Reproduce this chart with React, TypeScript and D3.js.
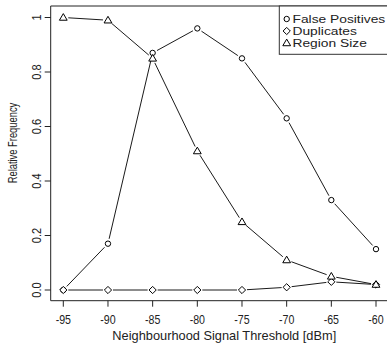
import React from "react";
import * as d3 from "d3";

const thresholds = [-95, -90, -85, -80, -75, -70, -65, -60];
const falsePositives = [0, 0.17, 0.87, 0.96, 0.85, 0.63, 0.33, 0.15];
const duplicates = [0, 0, 0, 0, 0, 0.01, 0.03, 0.02];
const regionSize = [1.0, 0.99, 0.85, 0.51, 0.25, 0.11, 0.05, 0.02];
const yTicks = [0, 0.2, 0.4, 0.6, 0.8, 1];
const yTickLabels = ["0.0", "0.2", "0.4", "0.6", "0.8", "1"];
const legendLabels = ["False Positives", "Duplicates", "Region Size"];

const W = 387;
const H = 347;
const FONT = "'Liberation Sans', Arial, Helvetica, sans-serif";

const x = d3.scaleLinear().domain([-95, -60]).range([63.3, 376]);
const y = d3.scaleLinear().domain([0, 1]).range([290, 17.5]);

type Shape = "circle" | "diamond" | "triangle";

const Marker = ({ shape, cx, cy }: { shape: Shape; cx: number; cy: number }) => {
  if (shape === "circle")
    return <circle cx={cx} cy={cy} r={2.7} fill="white" stroke="black" strokeWidth={1} />;
  if (shape === "diamond") {
    const s = 3.6;
    return (
      <path
        d={`M${cx},${cy - s}L${cx + s},${cy}L${cx},${cy + s}L${cx - s},${cy}Z`}
        fill="white"
        stroke="black"
        strokeWidth={1}
      />
    );
  }
  const h = 3.9;
  return (
    <path
      d={`M${cx},${cy - h}L${cx + h},${cy + h * 0.7}L${cx - h},${cy + h * 0.7}Z`}
      fill="white"
      stroke="black"
      strokeWidth={1}
    />
  );
};

// R type="b": segments stop short of the points
const gapSegments = (vals: number[], gap: number) => {
  const segs: string[] = [];
  for (let i = 0; i < vals.length - 1; i++) {
    const x0 = x(thresholds[i]), y0 = y(vals[i]);
    const x1 = x(thresholds[i + 1]), y1 = y(vals[i + 1]);
    const len = Math.hypot(x1 - x0, y1 - y0);
    if (len <= 2 * gap) continue;
    const ux = (x1 - x0) / len, uy = (y1 - y0) / len;
    segs.push(
      d3.line()([
        [x0 + ux * gap, y0 + uy * gap],
        [x1 - ux * gap, y1 - uy * gap],
      ]) as string
    );
  }
  return segs;
};

const series: { vals: number[]; shape: Shape }[] = [
  { vals: falsePositives, shape: "circle" },
  { vals: duplicates, shape: "diamond" },
  { vals: regionSize, shape: "triangle" },
];

const App = () => {
  const left = 50.7;
  const bottom = 300.7;
  const top = 6;
  return (
    <svg
      width={W}
      height={H}
      style={{ position: "absolute", left: 0, top: 0, background: "white" }}
      fontFamily={FONT}
    >
      {/* axes box lines */}
      <line x1={left} x2={W} y1={top} y2={top} stroke="#222" strokeWidth={1} />
      <line x1={left} x2={left} y1={top} y2={bottom} stroke="#222" strokeWidth={1} />
      <line x1={left} x2={W} y1={bottom} y2={bottom} stroke="#222" strokeWidth={1} />

      {/* x ticks */}
      {thresholds.map((t) => (
        <g key={t}>
          <line x1={x(t)} x2={x(t)} y1={bottom} y2={bottom + 6} stroke="#222" />
          <text
            transform={`translate(${x(t)},${323.5}) scale(0.85,1)`}
            textAnchor="middle"
            fontSize={12.5}
            fill="#222"
          >
            {t}
          </text>
        </g>
      ))}

      {/* y ticks */}
      {yTicks.map((v, i) => (
        <g key={v}>
          <line x1={left - 6} x2={left} y1={y(v)} y2={y(v)} stroke="#222" />
          <text
            transform={`translate(${41},${y(v)}) rotate(-90) scale(0.85,1)`}
            textAnchor="middle"
            fontSize={13}
            fill="#222"
          >
            {yTickLabels[i]}
          </text>
        </g>
      ))}

      {/* axis titles */}
      <text x={224.3} y={339.5} textAnchor="middle" fontSize={12.8} fill="#222">
        Neighbourhood Signal Threshold [dBm]
      </text>
      <text
        transform={`translate(${16.5},${143}) rotate(-90) scale(0.78,1)`}
        textAnchor="middle"
        fontSize={12}
        fill="#222"
      >
        Relative Frequency
      </text>

      {/* series */}
      {series.map((s, si) => (
        <g key={si}>
          {gapSegments(s.vals, 5).map((d, i) => (
            <path key={i} d={d} stroke="black" strokeWidth={0.9} fill="none" />
          ))}
          {s.vals.map((v, i) => (
            <Marker key={i} shape={s.shape} cx={x(thresholds[i])} cy={y(v)} />
          ))}
        </g>
      ))}

      {/* legend */}
      <rect x={279.3} y={top} width={W} height={48.3} fill="white" stroke="#333" strokeWidth={1} />
      {legendLabels.map((lab, i) => {
        const ly = 19 + i * 12;
        return (
          <g key={lab}>
            <Marker shape={series[i].shape} cx={286.7} cy={ly} />
            <text
              transform={`translate(${292.5},${ly + 4.2}) scale(1.2,1)`}
              fontSize={11.5}
              fill="#222"
            >
              {lab}
            </text>
          </g>
        );
      })}
    </svg>
  );
};

export default App;
